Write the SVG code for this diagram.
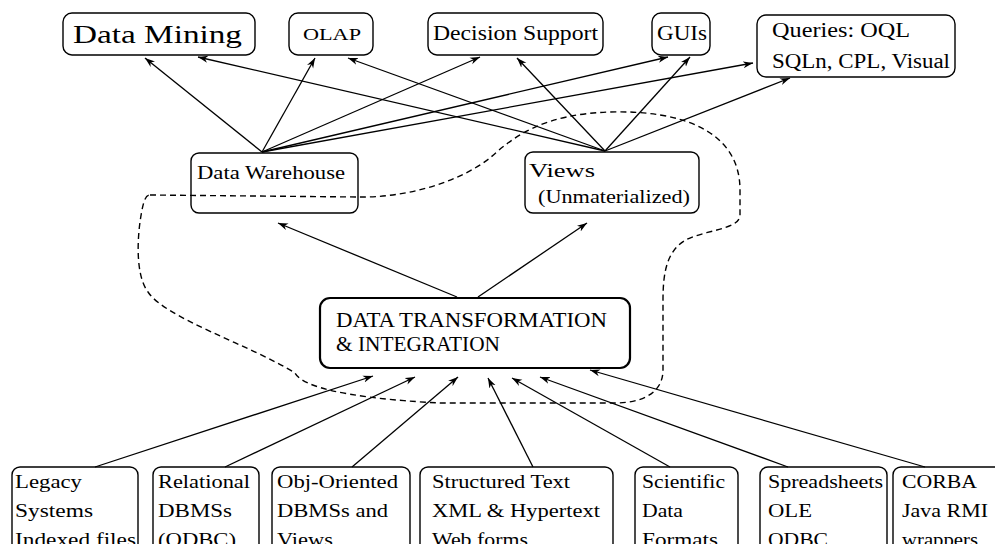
<svg xmlns="http://www.w3.org/2000/svg" width="995" height="544" viewBox="0 0 995 544">
<defs>
<marker id="ah" markerWidth="11" markerHeight="8" refX="10" refY="4" orient="auto" markerUnits="userSpaceOnUse">
<path d="M0,0.5 L10,4 L0,7.5 L3,4 Z" fill="#000"/>
</marker>
<style>
.box{fill:#fff;stroke:#000;stroke-width:1.4}
.thick{stroke-width:2.2}
.t{font-family:"Liberation Serif","DejaVu Serif",serif;fill:#000}
.c{fill:none;stroke:#000;stroke-width:1.3;marker-end:url(#ah)}
.dash{fill:none;stroke:#000;stroke-width:1.4;stroke-dasharray:6,4}
</style>
</defs>
<rect width="995" height="544" fill="#fff"/>

<g id="n-datamining"><rect class="box" x="63" y="13" width="192" height="42" rx="9"/><text class="t" x="73" y="43" font-size="26" textLength="169" lengthAdjust="spacingAndGlyphs">Data Mining</text></g>
<g id="n-olap"><rect class="box" x="289" y="13" width="84" height="42" rx="9"/><text class="t" x="303" y="40" font-size="17" textLength="58" lengthAdjust="spacingAndGlyphs">OLAP</text></g>
<g id="n-decision"><rect class="box" x="428" y="13" width="175" height="42" rx="9"/><text class="t" x="433" y="40" font-size="20" textLength="165" lengthAdjust="spacingAndGlyphs">Decision Support</text></g>
<g id="n-guis"><rect class="box" x="652" y="13" width="58" height="42" rx="9"/><text class="t" x="657" y="40" font-size="20" textLength="50" lengthAdjust="spacingAndGlyphs">GUIs</text></g>
<g id="n-queries"><rect class="box" x="757" y="15" width="198" height="62" rx="9"/><text class="t" x="772" y="37" font-size="20" textLength="138" lengthAdjust="spacingAndGlyphs">Queries: OQL</text><text class="t" x="772" y="68" font-size="20" textLength="178" lengthAdjust="spacingAndGlyphs">SQLn, CPL, Visual</text></g>

<g id="n-warehouse"><rect class="box" x="191" y="153" width="167" height="60" rx="8"/><text class="t" x="197" y="179" font-size="19" textLength="148" lengthAdjust="spacingAndGlyphs">Data Warehouse</text></g>
<g id="n-views"><rect class="box" x="525" y="152" width="174" height="61" rx="8"/><text class="t" x="529" y="177" font-size="19" textLength="66" lengthAdjust="spacingAndGlyphs">Views</text><text class="t" x="538" y="203" font-size="19" textLength="152" lengthAdjust="spacingAndGlyphs">(Unmaterialized)</text></g>

<g id="n-dti"><rect class="box thick" x="320" y="298" width="310" height="70" rx="10"/><text class="t" x="336" y="327" font-size="20" textLength="271" lengthAdjust="spacingAndGlyphs">DATA TRANSFORMATION</text><text class="t" x="336" y="351" font-size="20" textLength="164" lengthAdjust="spacingAndGlyphs">&amp; INTEGRATION</text></g>

<g id="n-legacy"><rect class="box" x="12" y="467" width="126" height="100" rx="8"/><text class="t" x="15" y="488" font-size="19" textLength="67" lengthAdjust="spacingAndGlyphs">Legacy</text><text class="t" x="15" y="517" font-size="19" textLength="78" lengthAdjust="spacingAndGlyphs">Systems</text><text class="t" x="15" y="546" font-size="19" textLength="121" lengthAdjust="spacingAndGlyphs">Indexed files</text></g>
<g id="n-relational"><rect class="box" x="153" y="467" width="106" height="100" rx="8"/><text class="t" x="158" y="488" font-size="19" textLength="92" lengthAdjust="spacingAndGlyphs">Relational</text><text class="t" x="158" y="517" font-size="19" textLength="74" lengthAdjust="spacingAndGlyphs">DBMSs</text><text class="t" x="158" y="546" font-size="19" textLength="78" lengthAdjust="spacingAndGlyphs">(ODBC)</text></g>
<g id="n-oo"><rect class="box" x="272" y="467" width="138" height="100" rx="8"/><text class="t" x="277" y="488" font-size="19" textLength="121" lengthAdjust="spacingAndGlyphs">Obj-Oriented</text><text class="t" x="277" y="517" font-size="19" textLength="111" lengthAdjust="spacingAndGlyphs">DBMSs and</text><text class="t" x="277" y="546" font-size="19" textLength="56" lengthAdjust="spacingAndGlyphs">Views</text></g>
<g id="n-structured"><rect class="box" x="420" y="467" width="193" height="100" rx="8"/><text class="t" x="432" y="488" font-size="19" textLength="138" lengthAdjust="spacingAndGlyphs">Structured Text</text><text class="t" x="432" y="517" font-size="19" textLength="168" lengthAdjust="spacingAndGlyphs">XML &amp; Hypertext</text><text class="t" x="432" y="546" font-size="19" textLength="96" lengthAdjust="spacingAndGlyphs">Web forms</text></g>
<g id="n-scientific"><rect class="box" x="635" y="467" width="103" height="100" rx="8"/><text class="t" x="642" y="488" font-size="19" textLength="83" lengthAdjust="spacingAndGlyphs">Scientific</text><text class="t" x="642" y="517" font-size="19" textLength="41" lengthAdjust="spacingAndGlyphs">Data</text><text class="t" x="642" y="546" font-size="19" textLength="76" lengthAdjust="spacingAndGlyphs">Formats</text></g>
<g id="n-spreadsheets"><rect class="box" x="760" y="467" width="127" height="100" rx="8"/><text class="t" x="768" y="488" font-size="19" textLength="115" lengthAdjust="spacingAndGlyphs">Spreadsheets</text><text class="t" x="768" y="517" font-size="19" textLength="44" lengthAdjust="spacingAndGlyphs">OLE</text><text class="t" x="768" y="546" font-size="19" textLength="60" lengthAdjust="spacingAndGlyphs">ODBC</text></g>
<g id="n-corba"><rect class="box" x="893" y="467" width="120" height="100" rx="8"/><text class="t" x="902" y="488" font-size="19" textLength="75" lengthAdjust="spacingAndGlyphs">CORBA</text><text class="t" x="902" y="517" font-size="19" textLength="86" lengthAdjust="spacingAndGlyphs">Java RMI</text><text class="t" x="902" y="546" font-size="19" textLength="76" lengthAdjust="spacingAndGlyphs">wrappers</text></g>

<g id="connectors">
<path class="c" d="M262,152 L145,58"/>
<path class="c" d="M262,152 L315,58"/>
<path class="c" d="M262,152 L480,57"/>
<path class="c" d="M262,152 L668,57"/>
<path class="c" d="M262,152 L753,63"/>
<path class="c" d="M605,151 L198,57"/>
<path class="c" d="M605,151 L348,58"/>
<path class="c" d="M605,151 L517,58"/>
<path class="c" d="M605,151 L690,57"/>
<path class="c" d="M605,151 L790,78"/>
<path class="c" d="M457,297 L278,223"/>
<path class="c" d="M478,297 L587,223"/>
<path class="c" d="M95,467 L373,376"/>
<path class="c" d="M225,467 L415,377"/>
<path class="c" d="M352,467 L458,377"/>
<path class="c" d="M533,467 L488,378"/>
<path class="c" d="M670,467 L512,378"/>
<path class="c" d="M788,467 L540,377"/>
<path class="c" d="M925,467 L590,370"/>
</g>

<path class="dash" d="M150,195 L358,197 C400,198 455,185 490,158 C515,135 545,114 610,112 C680,110 740,130 740,190 L740,215 C740,230 702,230 684,241 C667,252 663,272 663,300 L663,370 C663,393 642,403 615,403 L440,403 C380,400 305,392 295,373 C250,345 165,318 148,292 C135,275 137,235 142,210 C144,200 146,195 150,195 Z"/>
</svg>
